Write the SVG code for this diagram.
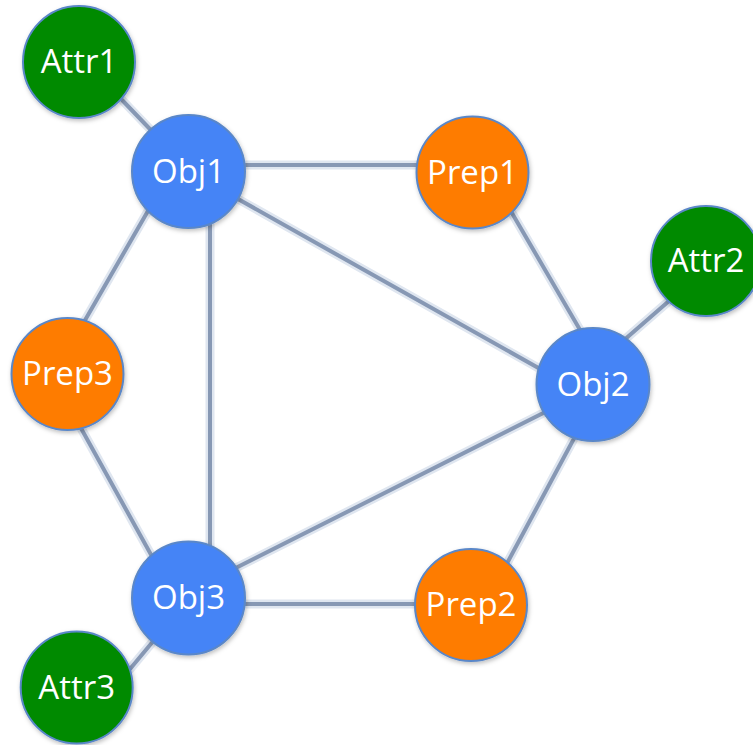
<svg xmlns="http://www.w3.org/2000/svg" width="753" height="745" viewBox="0 0 753 745">
<defs>
<filter id="sh" x="-20%" y="-20%" width="140%" height="140%">
<feDropShadow dx="1" dy="2" stdDeviation="2" flood-color="#000" flood-opacity="0.25"/>
</filter>
<style>
.e{stroke:#8798b4;stroke-width:4;fill:none;stroke-linecap:round}
.eh{stroke:#dfe6f0;stroke-width:9;fill:none;stroke-linecap:round}
.n{stroke:#5a87c8;stroke-width:2;filter:url(#sh)}
.obj{fill:#4584f6}
.prep{fill:#fe7b00}
.attr{fill:#008a00}
text{font-family:"Open Sans","Noto Sans",sans-serif;font-size:33px;fill:#fff;text-anchor:middle}
</style>
</defs>
<rect width="753" height="745" fill="#fff"/>
<g id="connectors">
<g class="eh">
<line x1="100" y1="77" x2="170" y2="150"/>
<line x1="190" y1="165" x2="470" y2="165"/>
<line x1="190" y1="172" x2="590" y2="397"/>
<line x1="210" y1="171" x2="210" y2="598"/>
<line x1="171" y1="171" x2="54" y2="374"/>
<line x1="495" y1="184" x2="590" y2="347"/>
<line x1="600" y1="361" x2="700" y2="274"/>
<line x1="51" y1="374" x2="175" y2="598"/>
<line x1="190" y1="591" x2="593" y2="388"/>
<line x1="190" y1="604" x2="470" y2="604"/>
<line x1="490" y1="595" x2="585" y2="418"/>
<line x1="100" y1="705" x2="180" y2="609"/>
</g>
<g class="e">
<line x1="100" y1="77" x2="170" y2="150"/>
<line x1="190" y1="165" x2="470" y2="165"/>
<line x1="190" y1="172" x2="590" y2="397"/>
<line x1="210" y1="171" x2="210" y2="598"/>
<line x1="171" y1="171" x2="54" y2="374"/>
<line x1="495" y1="184" x2="590" y2="347"/>
<line x1="600" y1="361" x2="700" y2="274"/>
<line x1="51" y1="374" x2="175" y2="598"/>
<line x1="190" y1="591" x2="593" y2="388"/>
<line x1="190" y1="604" x2="470" y2="604"/>
<line x1="490" y1="595" x2="585" y2="418"/>
<line x1="100" y1="705" x2="180" y2="609"/>
</g>
</g>
<g id="Attr1"><circle class="n attr" cx="79" cy="62" r="56"/><text x="79" y="73">Attr1</text></g>
<g id="Obj1"><circle class="n obj" cx="188.5" cy="171.5" r="56.5"/><text x="188.5" y="182.5">Obj1</text></g>
<g id="Prep1"><circle class="n prep" cx="472.5" cy="172.5" r="56"/><text x="472.5" y="183.5">Prep1</text></g>
<g id="Attr2"><circle class="n attr" cx="706" cy="261" r="55"/><text x="706" y="272">Attr2</text></g>
<g id="Prep3"><circle class="n prep" cx="67.5" cy="374" r="56"/><text x="67.5" y="385">Prep3</text></g>
<g id="Obj2"><circle class="n obj" cx="593" cy="384.5" r="56.5"/><text x="593" y="395.5">Obj2</text></g>
<g id="Obj3"><circle class="n obj" cx="188.5" cy="598" r="56.5"/><text x="188.5" y="609">Obj3</text></g>
<g id="Prep2"><circle class="n prep" cx="471" cy="605" r="56"/><text x="471" y="616">Prep2</text></g>
<g id="Attr3"><circle class="n attr" cx="76.7" cy="687.5" r="56"/><text x="76.7" y="698.5">Attr3</text></g>
</svg>
